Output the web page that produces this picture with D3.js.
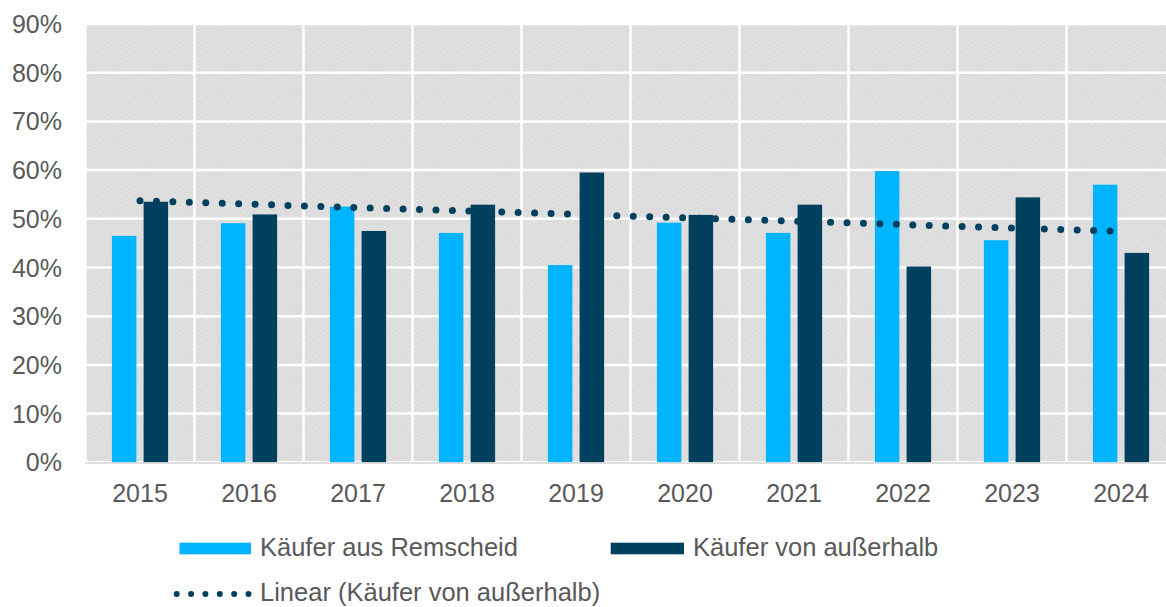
<!DOCTYPE html>
<html>
<head>
<meta charset="utf-8">
<script src="https://cdn.jsdelivr.net/npm/d3@7/dist/d3.min.js"></script>
<style>
  html, body { margin: 0; padding: 0; background: #ffffff; }
  svg { display: block; }
  text { font-family: "Liberation Sans", Arial, sans-serif; fill: #595959; }
</style>
</head>
<body>
<svg id="chart" width="1166" height="607"></svg>
<script>
// ---- data ----
const years = ["2015","2016","2017","2018","2019","2020","2021","2022","2023","2024"];
const remscheid = [46.5, 49.1, 52.5, 47.1, 40.5, 49.2, 47.1, 59.8, 45.6, 57.0];
const ausserhalb = [53.5, 50.9, 47.5, 52.9, 59.5, 50.8, 52.9, 40.2, 54.4, 43.0];
const yTicks = [0, 10, 20, 30, 40, 50, 60, 70, 80, 90];
const seriesNames = ["Käufer aus Remscheid", "Käufer von außerhalb", "Linear (Käufer von außerhalb)"];

const colLight = "#00B4FF";
const colDark = "#00405F";

const svg = d3.select("#chart");

// texture pattern for plot background
const defs = svg.append("defs");
const pat = defs.append("pattern").attr("id", "speckle")
  .attr("patternUnits", "userSpaceOnUse").attr("width", 9).attr("height", 9);
pat.append("rect").attr("width", 9).attr("height", 9).attr("fill", "#DCDCDC");
[[1,0],[6,1],[3,2],[8,3],[0,4],[5,5],[2,6],[7,7],[4,8],[8,0],[3,6]].forEach(([px,py]) => {
  pat.append("rect").attr("x", px).attr("y", py).attr("width", 1).attr("height", 1).attr("fill", "#E8E8E8");
});

const x = d3.scaleBand().domain(years).range([85.5, 1175.5]).padding(0);
const y = d3.scaleLinear().domain([0, 90]).range([462.3, 24]);

// plot background
svg.append("rect")
  .attr("x", x.range()[0]).attr("y", y(90))
  .attr("width", x.range()[1] - x.range()[0]).attr("height", y(0) - y(90))
  .attr("fill", "url(#speckle)");

// gridlines
const grid = svg.append("g");
grid.selectAll("line.h").data(yTicks).join("line")
  .attr("x1", x.range()[0]).attr("x2", x.range()[1])
  .attr("y1", d => y(d)).attr("y2", d => y(d))
  .attr("stroke", "#ffffff").attr("stroke-width", 2.5);
grid.selectAll("line.v").data(years).join("line")
  .attr("x1", d => x(d)).attr("x2", d => x(d))
  .attr("y1", y(90)).attr("y2", y(0))
  .attr("stroke", "#ffffff").attr("stroke-width", 2.5);

// bars
const bw = 24.5, gap = 7.2;
const center = d => x(d) + x.bandwidth() / 2;
svg.append("g").selectAll("rect").data(years).join("rect")
  .attr("x", (d) => center(d) - gap / 2 - bw)
  .attr("y", (d, i) => y(remscheid[i]))
  .attr("width", bw)
  .attr("height", (d, i) => y(0) - y(remscheid[i]))
  .attr("fill", colLight);
svg.append("g").selectAll("rect").data(years).join("rect")
  .attr("x", (d) => center(d) + gap / 2)
  .attr("y", (d, i) => y(ausserhalb[i]))
  .attr("width", bw)
  .attr("height", (d, i) => y(0) - y(ausserhalb[i]))
  .attr("fill", colDark);

// bottom axis line
svg.append("line")
  .attr("x1", x.range()[0]).attr("x2", x.range()[1])
  .attr("y1", y(0) + 0.6).attr("y2", y(0) + 0.6)
  .attr("stroke", "#D4D4D4").attr("stroke-width", 1.5);

// linear trendline (least squares on ausserhalb)
const n = ausserhalb.length;
const xs = d3.range(n);
const mx = d3.mean(xs), my = d3.mean(ausserhalb);
const slope = d3.sum(xs, i => (i - mx) * (ausserhalb[i] - my)) / d3.sum(xs, i => (i - mx) * (i - mx));
const icpt = my - slope * mx;
const trend = xs.map(i => icpt + slope * i);
svg.append("path")
  .datum(years.map((d, i) => [center(d), y(trend[i])]))
  .attr("d", d3.line())
  .attr("fill", "none")
  .attr("stroke", colDark)
  .attr("stroke-width", 7)
  .attr("stroke-linecap", "round")
  .attr("stroke-dasharray", "0 16.45");

// y axis labels
svg.append("g").selectAll("text").data(yTicks).join("text")
  .attr("x", 62).attr("y", d => y(d))
  .attr("text-anchor", "end").attr("dominant-baseline", "central")
  .attr("font-size", 25)
  .text(d => d + "%");

// x axis labels
svg.append("g").selectAll("text").data(years).join("text")
  .attr("x", d => center(d)).attr("y", 501.5)
  .attr("text-anchor", "middle")
  .attr("font-size", 25)
  .text(d => d);

// legend
const lg = svg.append("g");
lg.append("rect").attr("x", 179.5).attr("y", 542.7).attr("width", 71.5).attr("height", 11.6).attr("fill", colLight);
lg.append("text").attr("x", 260).attr("y", 556).attr("font-size", 25.5).text(seriesNames[0]);
lg.append("rect").attr("x", 610.7).attr("y", 542.7).attr("width", 73.3).attr("height", 11.6).attr("fill", colDark);
lg.append("text").attr("x", 693).attr("y", 556).attr("font-size", 25.5).text(seriesNames[1]);
lg.append("line").attr("x1", 176.7).attr("x2", 248.5).attr("y1", 594).attr("y2", 594)
  .attr("stroke", colDark).attr("stroke-width", 6).attr("stroke-linecap", "round")
  .attr("stroke-dasharray", "0 14.36");
lg.append("text").attr("x", 260).attr("y", 601).attr("font-size", 25.5).text(seriesNames[2]);
</script>
</body>
</html>
